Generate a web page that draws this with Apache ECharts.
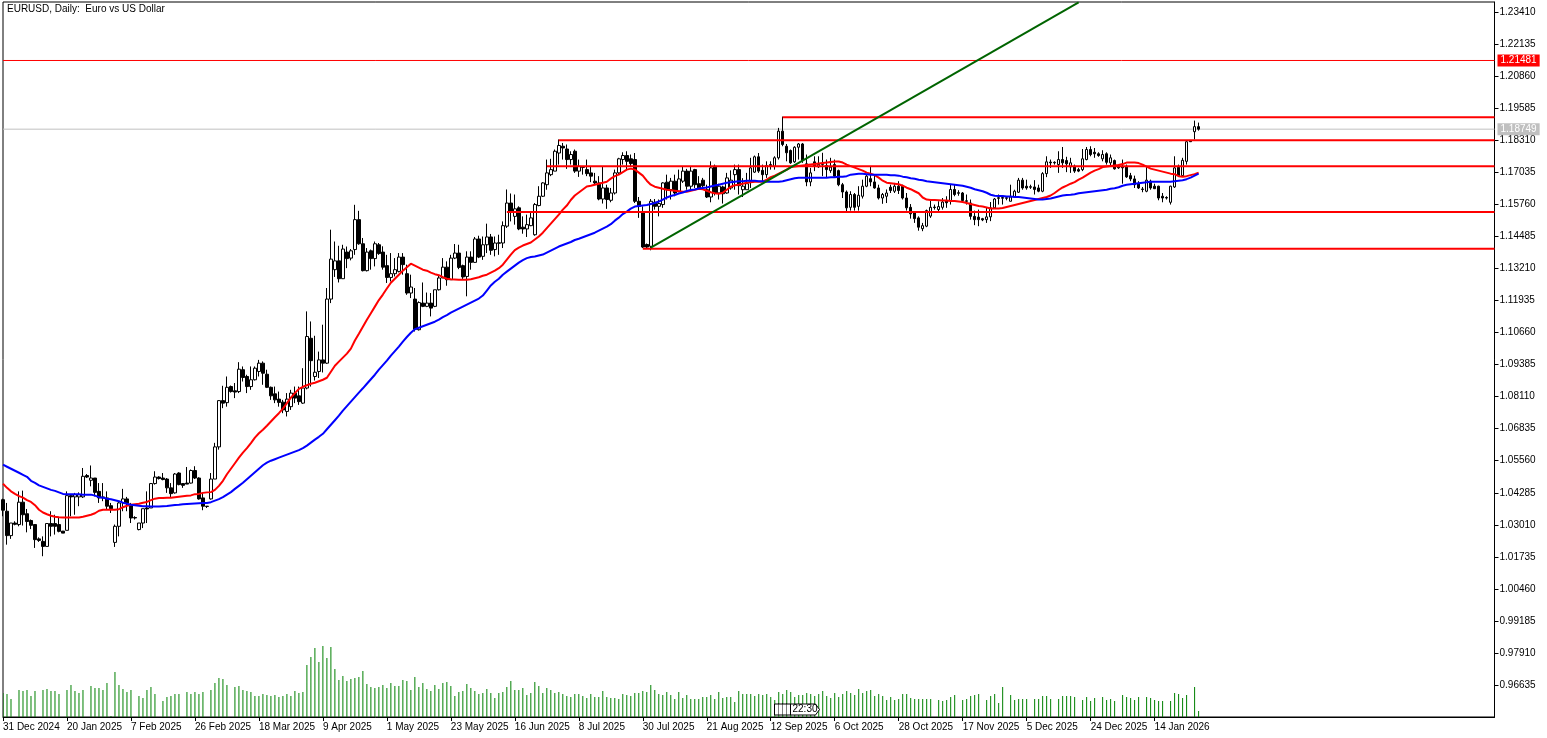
<!DOCTYPE html>
<html>
<head>
<meta charset="utf-8">
<title>EURUSD, Daily</title>
<style>
html, body { margin: 0; padding: 0; background: #fff; }
#chart { width: 1547px; height: 738px; }
</style>
<script src="https://cdn.jsdelivr.net/npm/echarts@6/dist/echarts.min.js"></script>
</head>
<body>
<div id="chart"></div>
<script>
var chartTitle = 'EURUSD, Daily:  Euro vs US Dollar'
var dateLabels = ['31 Dec 2024', '20 Jan 2025', '7 Feb 2025', '26 Feb 2025', '18 Mar 2025', '9 Apr 2025', '1 May 2025',
  '23 May 2025', '16 Jun 2025', '8 Jul 2025', '30 Jul 2025', '21 Aug 2025', '12 Sep 2025', '6 Oct 2025', '28 Oct 2025',
  '17 Nov 2025', '5 Dec 2025', '24 Dec 2025', '14 Jan 2026']
var priceTicks = [1.2341, 1.22135, 1.2086, 1.19585, 1.1831, 1.17035, 1.1576, 1.14485, 1.1321, 1.11935, 1.1066,
  1.09385, 1.0811, 1.06835, 1.0556, 1.04285, 1.0301, 1.01735, 1.0046, 0.99185, 0.9791, 0.96635]

// open, close, low, high
var ohlc = [
  [1.0401,1.0359,1.0335,1.0405],[1.0355,1.0258,1.0222,1.0388],[1.0258,1.0308,1.0245,1.0308],[1.0308,1.0303,1.0299,1.0315],[1.0302,1.0391,1.0295,1.0434],
  [1.0391,1.0341,1.0298,1.0437],[1.0345,1.0314,1.0271,1.0364],[1.0318,1.0299,1.0284,1.0322],[1.0302,1.0242,1.0209,1.0302],[1.0245,1.0239,1.0233,1.0251],
  [1.0235,1.0215,1.0176,1.0255],[1.0215,1.0306,1.0215,1.0306],[1.0306,1.0295,1.0255,1.0355],[1.0306,1.0295,1.0262,1.0341],[1.0302,1.0275,1.0271,1.0328],
  [1.0276,1.0268,1.0268,1.0276],[1.0279,1.0417,1.0279,1.0434],[1.0417,1.0412,1.0335,1.0421],[1.0412,1.0421,1.0341,1.0428],[1.0412,1.0421,1.0375,1.0430],
  [1.0412,1.0494,1.0408,1.0527],[1.0497,1.0491,1.0487,1.0503],[1.0478,1.0487,1.0454,1.0537],[1.0487,1.0430,1.0414,1.0487],[1.0434,1.0408,1.0388,1.0467],
  [1.0412,1.0408,1.0395,1.0467],[1.0408,1.0375,1.0361,1.0434],[1.0377,1.0365,1.0348,1.0388],[1.0231,1.0295,1.0213,1.0302],[1.0295,1.0388,1.0255,1.0395],
  [1.0388,1.0404,1.0355,1.0444],[1.0404,1.0388,1.0355,1.0412],[1.0381,1.0328,1.0308,1.0388],[1.0330,1.0328,1.0322,1.0335],[1.0282,1.0308,1.0279,1.0308],
  [1.0308,1.0365,1.0288,1.0365],[1.0368,1.0364,1.0308,1.0434],[1.0368,1.0465,1.0368,1.0467],[1.0465,1.0491,1.0461,1.0514],[1.0491,1.0485,1.0481,1.0494],
  [1.0487,1.0481,1.0478,1.0507],[1.0483,1.0448,1.0428,1.0487],[1.0448,1.0425,1.0408,1.0467],[1.0428,1.0503,1.0425,1.0507],[1.0507,1.0461,1.0458,1.0510],
  [1.0465,1.0458,1.0448,1.0467],[1.0467,1.0463,1.0463,1.0531],[1.0467,1.0517,1.0465,1.0521],[1.0517,1.0487,1.0483,1.0534],[1.0487,1.0404,1.0401,1.0490],
  [1.0408,1.0375,1.0359,1.0428],[1.0375,1.0374,1.0368,1.0375],[1.0404,1.0483,1.0401,1.0507],[1.0483,1.0611,1.0483,1.0627],[1.0611,1.0795,1.0600,1.0797],
  [1.0795,1.0785,1.0765,1.0854],[1.0787,1.0848,1.0771,1.0891],[1.0851,1.0831,1.0827,1.0855],[1.0834,1.0829,1.0805,1.0865],[1.0831,1.0920,1.0825,1.0948],
  [1.0918,1.0887,1.0871,1.0931],[1.0891,1.0851,1.0825,1.0898],[1.0851,1.0878,1.0838,1.0931],[1.0878,1.0924,1.0875,1.0931],[1.0911,1.0944,1.0891,1.0957],
  [1.0944,1.0904,1.0858,1.0951],[1.0900,1.0848,1.0845,1.0918],[1.0848,1.0814,1.0798,1.0851],[1.0822,1.0798,1.0785,1.0851],[1.0801,1.0788,1.0771,1.0831],
  [1.0789,1.0758,1.0745,1.0798],[1.0752,1.0801,1.0732,1.0825],[1.0771,1.0825,1.0758,1.0838],[1.0825,1.0805,1.0785,1.0851],[1.0814,1.0791,1.0778,1.0851],
  [1.0785,1.0845,1.0782,1.0924],[1.0845,1.1050,1.0840,1.1150],[1.1043,1.0954,1.0851,1.1110],[1.0891,1.0908,1.0875,1.1053],[1.0911,1.0957,1.0885,1.0990],
  [1.0957,1.0944,1.0907,1.1097],[1.0944,1.1199,1.0941,1.1243],[1.1199,1.1358,1.1183,1.1475],[1.1316,1.1351,1.1287,1.1428],[1.1351,1.1280,1.1265,1.1411],
  [1.1280,1.1398,1.1279,1.1415],[1.1386,1.1360,1.1322,1.1408],[1.1362,1.1391,1.1353,1.1398],[1.1396,1.1515,1.1375,1.1574],[1.1515,1.1419,1.1415,1.1550],
  [1.1419,1.1312,1.1309,1.1442],[1.1312,1.1386,1.1309,1.1402],[1.1391,1.1360,1.1316,1.1396],[1.1360,1.1419,1.1329,1.1428],[1.1415,1.1380,1.1375,1.1422],
  [1.1386,1.1326,1.1316,1.1409],[1.1332,1.1285,1.1263,1.1375],[1.1285,1.1300,1.1269,1.1382],[1.1300,1.1316,1.1289,1.1362],[1.1309,1.1366,1.1305,1.1382],
  [1.1366,1.1336,1.1296,1.1382],[1.1300,1.1223,1.1216,1.1336],[1.1223,1.1247,1.1203,1.1296],[1.1199,1.1079,1.1070,1.1243],[1.1077,1.1185,1.1074,1.1190],
  [1.1183,1.1170,1.1167,1.1265],[1.1170,1.1183,1.1167,1.1225],[1.1183,1.1163,1.1130,1.1223],[1.1170,1.1236,1.1167,1.1236],[1.1236,1.1283,1.1233,1.1292],
  [1.1283,1.1326,1.1283,1.1362],[1.1326,1.1276,1.1252,1.1349],[1.1276,1.1362,1.1276,1.1375],[1.1362,1.1382,1.1358,1.1418],[1.1382,1.1325,1.1318,1.1415],
  [1.1332,1.1287,1.1279,1.1336],[1.1289,1.1366,1.1210,1.1389],[1.1366,1.1345,1.1316,1.1389],[1.1345,1.1438,1.1343,1.1446],[1.1438,1.1366,1.1362,1.1451],
  [1.1369,1.1415,1.1355,1.1448],[1.1415,1.1446,1.1382,1.1499],[1.1446,1.1393,1.1375,1.1458],[1.1396,1.1422,1.1369,1.1448],[1.1423,1.1421,1.1375,1.1455],
  [1.1422,1.1491,1.1402,1.1508],[1.1489,1.1581,1.1482,1.1635],[1.1581,1.1544,1.1508,1.1619],[1.1528,1.1558,1.1495,1.1615],[1.1562,1.1478,1.1473,1.1568],
  [1.1485,1.1478,1.1459,1.1528],[1.1478,1.1495,1.1446,1.1535],[1.1491,1.1522,1.1489,1.1542],[1.1455,1.1575,1.1451,1.1581],[1.1571,1.1608,1.1568,1.1648],
  [1.1608,1.1661,1.1605,1.1664],[1.1654,1.1701,1.1634,1.1754],[1.1694,1.1714,1.1688,1.1757],[1.1708,1.1787,1.1708,1.1794],[1.1780,1.1810,1.1734,1.1834],
  [1.1807,1.1800,1.1754,1.1820],[1.1796,1.1754,1.1717,1.1814],[1.1754,1.1774,1.1734,1.1787],[1.1787,1.1708,1.1701,1.1794],[1.1708,1.1727,1.1685,1.1754],
  [1.1724,1.1723,1.1694,1.1727],[1.1714,1.1698,1.1688,1.1754],[1.1701,1.1688,1.1664,1.1727],[1.1668,1.1661,1.1654,1.1701],[1.1661,1.1597,1.1592,1.1688],
  [1.1597,1.1641,1.1579,1.1727],[1.1641,1.1595,1.1558,1.1654],[1.1592,1.1621,1.1584,1.1641],[1.1621,1.1701,1.1615,1.1714],[1.1701,1.1757,1.1694,1.1761],
  [1.1754,1.1770,1.1734,1.1783],[1.1770,1.1747,1.1714,1.1787],[1.1757,1.1738,1.1727,1.1774],[1.1754,1.1588,1.1581,1.1780],[1.1588,1.1568,1.1522,1.1605],
  [1.1544,1.1406,1.1402,1.1568],[1.1416,1.1406,1.1402,1.1420],[1.1409,1.1588,1.1393,1.1597],[1.1584,1.1568,1.1555,1.1597],[1.1568,1.1579,1.1528,1.1595],
  [1.1575,1.1661,1.1562,1.1664],[1.1664,1.1634,1.1595,1.1694],[1.1634,1.1668,1.1595,1.1681],[1.1668,1.1621,1.1608,1.1694],[1.1628,1.1677,1.1624,1.1714],
  [1.1668,1.1708,1.1661,1.1727],[1.1708,1.1648,1.1634,1.1717],[1.1648,1.1708,1.1637,1.1727],[1.1714,1.1654,1.1641,1.1717],[1.1658,1.1641,1.1634,1.1688],
  [1.1672,1.1650,1.1634,1.1681],[1.1634,1.1605,1.1601,1.1654],[1.1605,1.1721,1.1584,1.1747],[1.1727,1.1621,1.1611,1.1734],[1.1621,1.1648,1.1595,1.1658],
  [1.1645,1.1618,1.1579,1.1650],[1.1621,1.1681,1.1618,1.1701],[1.1641,1.1672,1.1634,1.1711],[1.1694,1.1714,1.1634,1.1734],[1.1714,1.1650,1.1615,1.1734],
  [1.1634,1.1648,1.1605,1.1680],[1.1634,1.1658,1.1634,1.1701],[1.1668,1.1721,1.1641,1.1761],[1.1704,1.1765,1.1701,1.1770],[1.1765,1.1708,1.1701,1.1780],
  [1.1711,1.1694,1.1668,1.1734],[1.1694,1.1730,1.1681,1.1747],[1.1734,1.1730,1.1714,1.1747],[1.1727,1.1761,1.1714,1.1767],[1.1761,1.1867,1.1754,1.1880],
  [1.1867,1.1814,1.1807,1.1925],[1.1807,1.1781,1.1747,1.1816],[1.1790,1.1741,1.1737,1.1794],[1.1745,1.1803,1.1741,1.1807],[1.1803,1.1816,1.1754,1.1820],
  [1.1816,1.1750,1.1741,1.1820],[1.1737,1.1665,1.1648,1.1774],[1.1665,1.1701,1.1648,1.1721],[1.1745,1.1728,1.1708,1.1767],[1.1725,1.1735,1.1721,1.1767],
  [1.1737,1.1735,1.1688,1.1781],[1.1730,1.1714,1.1681,1.1754],[1.1710,1.1724,1.1701,1.1761],[1.1734,1.1688,1.1681,1.1754],[1.1710,1.1654,1.1648,1.1714],
  [1.1654,1.1625,1.1601,1.1661],[1.1625,1.1562,1.1542,1.1631],[1.1564,1.1615,1.1551,1.1628],[1.1615,1.1564,1.1551,1.1621],[1.1568,1.1612,1.1551,1.1648],
  [1.1608,1.1648,1.1599,1.1674],[1.1648,1.1688,1.1644,1.1694],[1.1678,1.1665,1.1648,1.1728],[1.1665,1.1641,1.1638,1.1694],[1.1641,1.1601,1.1595,1.1654],
  [1.1601,1.1615,1.1578,1.1621],[1.1608,1.1621,1.1581,1.1635],[1.1644,1.1631,1.1621,1.1654],[1.1628,1.1648,1.1621,1.1661],[1.1648,1.1631,1.1617,1.1668],
  [1.1648,1.1601,1.1595,1.1654],[1.1601,1.1562,1.1551,1.1621],[1.1564,1.1538,1.1519,1.1577],[1.1542,1.1519,1.1502,1.1548],[1.1522,1.1485,1.1471,1.1528],
  [1.1479,1.1491,1.1469,1.1502],[1.1489,1.1551,1.1485,1.1555],[1.1529,1.1564,1.1522,1.1595],[1.1565,1.1563,1.1555,1.1575],[1.1555,1.1567,1.1542,1.1588],
  [1.1564,1.1585,1.1555,1.1601],[1.1591,1.1582,1.1562,1.1608],[1.1591,1.1635,1.1575,1.1657],[1.1635,1.1615,1.1608,1.1654],[1.1622,1.1620,1.1610,1.1632],
  [1.1621,1.1591,1.1582,1.1625],[1.1590,1.1588,1.1575,1.1615],[1.1581,1.1528,1.1515,1.1595],[1.1528,1.1515,1.1493,1.1551],[1.1525,1.1515,1.1489,1.1555],
  [1.1519,1.1514,1.1509,1.1522],[1.1515,1.1526,1.1502,1.1562],[1.1526,1.1562,1.1509,1.1585],[1.1562,1.1597,1.1559,1.1601],[1.1602,1.1600,1.1575,1.1615],
  [1.1600,1.1603,1.1575,1.1611],[1.1602,1.1600,1.1592,1.1608],[1.1588,1.1605,1.1588,1.1654],[1.1605,1.1628,1.1601,1.1634],[1.1624,1.1672,1.1621,1.1681],
  [1.1672,1.1641,1.1634,1.1681],[1.1648,1.1641,1.1634,1.1674],[1.1646,1.1644,1.1637,1.1654],[1.1645,1.1635,1.1615,1.1672],[1.1641,1.1628,1.1624,1.1654],
  [1.1628,1.1698,1.1624,1.1704],[1.1698,1.1745,1.1684,1.1767],[1.1744,1.1741,1.1721,1.1754],[1.1743,1.1741,1.1734,1.1747],[1.1734,1.1754,1.1701,1.1787],
  [1.1754,1.1741,1.1721,1.1804],[1.1750,1.1737,1.1704,1.1765],[1.1725,1.1741,1.1701,1.1761],[1.1727,1.1708,1.1701,1.1734],[1.1714,1.1708,1.1704,1.1721],
  [1.1714,1.1757,1.1708,1.1796],[1.1754,1.1794,1.1751,1.1804],[1.1794,1.1774,1.1767,1.1807],[1.1783,1.1777,1.1761,1.1800],[1.1777,1.1770,1.1765,1.1783],
  [1.1757,1.1774,1.1747,1.1791],[1.1777,1.1743,1.1734,1.1783],[1.1741,1.1761,1.1727,1.1774],[1.1750,1.1717,1.1714,1.1754],[1.1727,1.1721,1.1717,1.1734],
  [1.1727,1.1721,1.1658,1.1754],[1.1725,1.1685,1.1681,1.1734],[1.1690,1.1677,1.1668,1.1701],[1.1677,1.1654,1.1641,1.1690],[1.1658,1.1641,1.1637,1.1668],
  [1.1637,1.1635,1.1624,1.1645],[1.1628,1.1672,1.1624,1.1727],[1.1668,1.1641,1.1634,1.1674],[1.1648,1.1638,1.1637,1.1658],[1.1648,1.1601,1.1592,1.1650],
  [1.1608,1.1601,1.1584,1.1621],[1.1603,1.1601,1.1595,1.1608],[1.1584,1.1648,1.1575,1.1650],[1.1645,1.1721,1.1641,1.1767],[1.1723,1.1690,1.1685,1.1734],
  [1.1690,1.1751,1.1688,1.1761],[1.1747,1.1825,1.1734,1.1830],[1.1830,1.1825,1.1824,1.1831],[1.1865,1.1885,1.1834,1.1909],[1.1885,1.1875,1.1869,1.1901]
]

var redMa = [
  1.0464,1.0448,1.0434,1.0424,1.0415,1.0409,1.0399,1.0392,1.0379,1.0361,
  1.0350,1.0343,1.0337,1.0333,1.0331,1.0330,1.0330,1.0330,1.0330,1.0330,
  1.0333,1.0337,1.0341,1.0347,1.0357,1.0361,1.0361,1.0361,1.0361,1.0363,
  1.0371,1.0377,1.0381,1.0383,1.0385,1.0389,1.0392,1.0399,1.0405,1.0408,
  1.0408,1.0409,1.0409,1.0411,1.0413,1.0415,1.0417,1.0418,1.0423,1.0424,
  1.0428,1.0430,1.0431,1.0440,1.0456,1.0476,1.0502,1.0524,1.0546,1.0568,
  1.0588,1.0606,1.0626,1.0648,1.0665,1.0679,1.0695,1.0712,1.0729,1.0745,
  1.0763,1.0785,1.0807,1.0825,1.0842,1.0850,1.0856,1.0862,1.0866,1.0872,
  1.0878,1.0886,1.0910,1.0934,1.0950,1.0966,1.0982,1.1002,1.1034,1.1061,
  1.1089,1.1117,1.1143,1.1169,1.1195,1.1217,1.1241,1.1264,1.1280,1.1296,
  1.1312,1.1326,1.1340,1.1332,1.1324,1.1316,1.1312,1.1304,1.1298,1.1294,
  1.1286,1.1280,1.1278,1.1277,1.1276,1.1276,1.1276,1.1278,1.1282,1.1286,
  1.1292,1.1296,1.1304,1.1312,1.1322,1.1336,1.1356,1.1376,1.1394,1.1404,
  1.1412,1.1418,1.1424,1.1436,1.1448,1.1463,1.1481,1.1499,1.1517,1.1535,
  1.1555,1.1571,1.1593,1.1611,1.1623,1.1635,1.1647,1.1650,1.1654,1.1658,
  1.1662,1.1666,1.1678,1.1688,1.1694,1.1704,1.1714,1.1718,1.1714,1.1702,
  1.1690,1.1670,1.1654,1.1646,1.1642,1.1638,1.1634,1.1632,1.1630,1.1628,
  1.1626,1.1626,1.1630,1.1634,1.1638,1.1636,1.1630,1.1624,1.1620,1.1618,
  1.1622,1.1634,1.1646,1.1652,1.1654,1.1658,1.1662,1.1664,1.1666,1.1666,
  1.1666,1.1674,1.1684,1.1690,1.1698,1.1706,1.1714,1.1724,1.1726,1.1728,
  1.1730,1.1732,1.1734,1.1736,1.1738,1.1740,1.1742,1.1744,1.1746,1.1746,
  1.1742,1.1734,1.1728,1.1722,1.1716,1.1710,1.1702,1.1698,1.1692,1.1682,
  1.1670,1.1662,1.1660,1.1658,1.1656,1.1650,1.1642,1.1636,1.1628,1.1620,
  1.1603,1.1595,1.1593,1.1593,1.1592,1.1591,1.1591,1.1589,1.1589,1.1587,
  1.1585,1.1581,1.1577,1.1573,1.1569,1.1567,1.1563,1.1559,1.1559,1.1559,
  1.1561,1.1565,1.1569,1.1573,1.1577,1.1581,1.1585,1.1589,1.1593,1.1597,
  1.1601,1.1605,1.1611,1.1621,1.1633,1.1643,1.1650,1.1658,1.1664,1.1674,
  1.1682,1.1692,1.1702,1.1710,1.1716,1.1724,1.1726,1.1728,1.1730,1.1732,
  1.1736,1.1742,1.1742,1.1742,1.1740,1.1734,1.1726,1.1718,1.1714,1.1710,
  1.1706,1.1702,1.1698,1.1696,1.1688,1.1686,1.1688,1.1692,1.1696,1.1702
]

var blueMa = [
  1.0540,1.0532,1.0524,1.0516,1.0508,1.0500,1.0492,1.0476,1.0468,1.0458,
  1.0452,1.0446,1.0440,1.0436,1.0430,1.0424,1.0423,1.0423,1.0423,1.0423,
  1.0421,1.0421,1.0421,1.0417,1.0411,1.0409,1.0405,1.0403,1.0399,1.0395,
  1.0389,1.0385,1.0381,1.0379,1.0377,1.0375,1.0375,1.0374,1.0374,1.0374,
  1.0375,1.0376,1.0378,1.0380,1.0381,1.0383,1.0384,1.0385,1.0386,1.0387,
  1.0388,1.0388,1.0391,1.0397,1.0403,1.0411,1.0421,1.0431,1.0444,1.0456,
  1.0468,1.0482,1.0496,1.0510,1.0524,1.0538,1.0548,1.0556,1.0562,1.0568,
  1.0574,1.0580,1.0586,1.0592,1.0598,1.0606,1.0616,1.0628,1.0640,1.0651,
  1.0663,1.0681,1.0699,1.0717,1.0735,1.0755,1.0773,1.0791,1.0809,1.0827,
  1.0844,1.0862,1.0880,1.0898,1.0918,1.0936,1.0954,1.0974,1.0992,1.1010,
  1.1030,1.1048,1.1065,1.1079,1.1085,1.1091,1.1097,1.1103,1.1109,1.1117,
  1.1127,1.1135,1.1145,1.1153,1.1161,1.1169,1.1177,1.1185,1.1193,1.1201,
  1.1213,1.1233,1.1253,1.1268,1.1280,1.1296,1.1308,1.1320,1.1332,1.1344,
  1.1354,1.1362,1.1366,1.1368,1.1372,1.1376,1.1384,1.1392,1.1400,1.1408,
  1.1414,1.1420,1.1426,1.1434,1.1439,1.1445,1.1451,1.1457,1.1463,1.1471,
  1.1479,1.1487,1.1497,1.1511,1.1523,1.1537,1.1547,1.1559,1.1567,1.1569,
  1.1571,1.1573,1.1577,1.1581,1.1587,1.1595,1.1603,1.1609,1.1613,1.1619,
  1.1623,1.1629,1.1633,1.1635,1.1639,1.1641,1.1643,1.1647,1.1651,1.1654,
  1.1658,1.1662,1.1664,1.1666,1.1668,1.1668,1.1670,1.1670,1.1670,1.1668,
  1.1668,1.1666,1.1666,1.1666,1.1666,1.1668,1.1672,1.1676,1.1680,1.1682,
  1.1682,1.1682,1.1682,1.1682,1.1682,1.1682,1.1682,1.1684,1.1684,1.1686,
  1.1686,1.1688,1.1694,1.1696,1.1698,1.1698,1.1696,1.1694,1.1694,1.1694,
  1.1694,1.1694,1.1692,1.1692,1.1690,1.1686,1.1684,1.1680,1.1678,1.1674,
  1.1672,1.1668,1.1666,1.1664,1.1662,1.1660,1.1658,1.1656,1.1654,1.1652,
  1.1650,1.1646,1.1642,1.1636,1.1632,1.1628,1.1622,1.1614,1.1610,1.1609,
  1.1609,1.1607,1.1607,1.1605,1.1605,1.1603,1.1601,1.1599,1.1597,1.1595,
  1.1595,1.1597,1.1599,1.1603,1.1607,1.1611,1.1613,1.1614,1.1616,1.1620,
  1.1622,1.1624,1.1626,1.1628,1.1630,1.1632,1.1634,1.1638,1.1640,1.1644,
  1.1650,1.1654,1.1656,1.1658,1.1660,1.1662,1.1664,1.1666,1.1666,1.1666,
  1.1666,1.1666,1.1666,1.1668,1.1670,1.1672,1.1676,1.1682,1.1690,1.1698
]

// tick volume, thousands
var volumes = [
  24,23,18,0,27,26,27,21,26,0,
  27,28,26,26,23,0,27,32,26,24,
  27,0,31,29,29,27,34,1,45,32,
  28,25,27,0,21,19,27,30,23,0,
  16,20,21,23,23,0,25,23,25,23,
  25,0,27,34,39,38,32,0,30,31,
  27,26,25,21,21,23,22,21,22,20,
  21,23,21,26,24,25,52,60,69,55,
  71,59,70,48,37,41,36,38,39,40,
  46,33,30,29,30,32,29,34,31,31,
  37,36,27,40,30,34,28,26,32,28,
  34,35,31,21,25,26,33,29,26,23,
  24,28,24,19,24,25,30,36,27,27,
  29,22,24,35,31,24,29,27,24,25,
  23,21,20,23,23,21,19,23,20,20,
  26,20,19,19,18,23,22,21,24,24,
  26,25,32,27,23,22,25,22,18,25,
  19,22,18,18,18,20,20,22,18,25,
  19,20,20,15,26,23,23,23,21,23,
  22,23,20,17,25,23,27,25,20,22,
  22,24,23,21,23,26,21,19,24,20,
  23,26,24,22,28,24,26,27,21,23,
  21,17,20,17,18,23,23,19,18,18,
  18,18,18,0,17,16,17,20,22,0,
  17,18,21,22,23,0,17,21,23,14,
  30,0,22,17,18,18,18,0,18,18,
  21,21,18,0,18,21,21,21,20,0,
  17,20,16,19,0,20,17,18,16,0,
  22,20,19,17,20,0,20,19,17,16,
  16,0,16,24,23,19,22,0,30,6
]

var levelValues = [1.1922, 1.1831, 1.1727, 1.1545, 1.1399]
var levelStartBars = [195, 139, 136, 126, 160]
var trendBars = [162, 269]
var trendPrices = [1.1404, 1.2379]
var resistance = 1.21481
var lastPrice = 1.18749
var countdown = '22:30'

var lastBar = 373
var labelStep = 16
var categories = []
for (var i = 0; i <= lastBar; i++) {
  categories.push(i % labelStep === 0 && dateLabels[i / labelStep] ? dateLabels[i / labelStep] : '')
}

var uiFont = '"Liberation Sans", sans-serif'

function hasLabel(index, value) {
  return value !== ''
}

function flatLine(level, startBar) {
  return {
    type: 'line',
    data: [[startBar, level], [lastBar, level]],
    symbol: 'none',
    silent: true,
    z: 6,
    lineStyle: {color: '#ff0000', width: 2}
  }
}

function priceLine(value, color, bg, width) {
  return {
    type: 'line',
    data: [[0, value], [lastBar, value]],
    symbol: 'none',
    silent: true,
    clip: false,
    z: 2,
    lineStyle: {color: color, width: width},
    endLabel: {
      show: true,
      formatter: value.toFixed(5),
      color: '#fff',
      backgroundColor: bg,
      fontFamily: uiFont,
      fontSize: 10,
      distance: 3,
      padding: [1, 3, 1, 3]
    }
  }
}

var series = [
  // large mode strokes each bar, so it lands on one pixel column
  {type: 'bar', xAxisIndex: 0, yAxisIndex: 1, data: volumes, barWidth: 1, z: 1,
    large: true, largeThreshold: 100, itemStyle: {color: '#008000'}, silent: true},
  priceLine(lastPrice, '#c0c0c0', '#c0c0c0', 1),
  priceLine(resistance, '#ff0000', '#ff0000', 1),
  {type: 'candlestick', data: ohlc, barWidth: 3, z: 3,
    itemStyle: {color: '#ffffff', color0: '#000000', borderColor: '#000000', borderColor0: '#000000', borderWidth: 1}},
  {type: 'line', data: redMa, symbol: 'none', z: 4, lineStyle: {color: '#ff0000', width: 2}},
  {type: 'line', data: blueMa, symbol: 'none', z: 5, lineStyle: {color: '#0000ff', width: 2}}
]
levelValues.forEach(function (level, k) {
  series.push(flatLine(level, levelStartBars[k]))
})
series.push({
  type: 'line',
  data: [[trendBars[0], trendPrices[0]], [trendBars[1], trendPrices[1]]],
  symbol: 'none',
  z: 7,
  lineStyle: {color: '#006400', width: 2}
})

var option = {
  animation: false,
  backgroundColor: '#ffffff',
  title: {
    text: chartTitle,
    left: 2,
    top: -1,
    textStyle: {color: '#000', fontFamily: uiFont, fontWeight: 'normal', fontSize: 10}
  },
  grid: {left: 2.5, right: 52.5, top: 2, bottom: 21, show: true, borderColor: '#000', borderWidth: 1, backgroundColor: 'transparent'},
  xAxis: {
    type: 'category',
    data: categories,
    boundaryGap: false,
    axisLine: {lineStyle: {color: '#000', width: 1}, onZero: false},
    axisTick: {show: true, length: 4, interval: hasLabel, lineStyle: {color: '#000'}},
    axisLabel: {interval: hasLabel, align: 'left', color: '#000', fontFamily: uiFont, fontSize: 10, margin: 5},
    splitLine: {show: false}
  },
  yAxis: [
    {
      type: 'value',
      position: 'right',
      min: 0.95364,
      max: 1.23808,
      scale: true,
      axisLine: {show: true, onZero: false, lineStyle: {color: '#000'}},
      axisTick: {show: true, length: 4, customValues: priceTicks, lineStyle: {color: '#000'}},
      axisLabel: {customValues: priceTicks, color: '#000', fontFamily: uiFont, fontSize: 10, margin: 5,
        formatter: function (v) { return v.toFixed(5) }},
      splitLine: {show: false}
    },
    {type: 'value', min: 0, max: 715, show: false, splitLine: {show: false}}
  ],
  series: series,
  graphic: [
    {type: 'group', left: 774, top: 701, silent: true, z: 20, children: [
      {type: 'rect', z: 20, shape: {x: 0.5, y: 0.5, width: 16, height: 11},
        style: {fill: '#fff', stroke: '#000', lineWidth: 1}},
      {type: 'line', z: 21, shape: {x1: 4.5, y1: 0, x2: 4.5, y2: 12}, style: {stroke: '#000', lineDash: [1, 1]}},
      {type: 'line', z: 21, shape: {x1: 8.5, y1: 0, x2: 8.5, y2: 12}, style: {stroke: '#000', lineDash: [1, 1]}},
      {type: 'line', z: 21, shape: {x1: 12.5, y1: 0, x2: 12.5, y2: 12}, style: {stroke: '#000', lineDash: [1, 1]}},
      {type: 'polygon', z: 22, shape: {points: [[16.5, 0.5], [41.5, 0.5], [45.5, 6], [41.5, 11.5], [16.5, 11.5]]},
        style: {fill: '#fff', stroke: '#000', lineWidth: 1}},
      {type: 'text', z: 23, x: 18.5, y: 1, style: {text: countdown, fill: '#000', font: '10px ' + uiFont}}
    ]}
  ]
}

var chart = echarts.init(document.getElementById('chart'))
chart.setOption(option)
</script>
</body>
</html>
